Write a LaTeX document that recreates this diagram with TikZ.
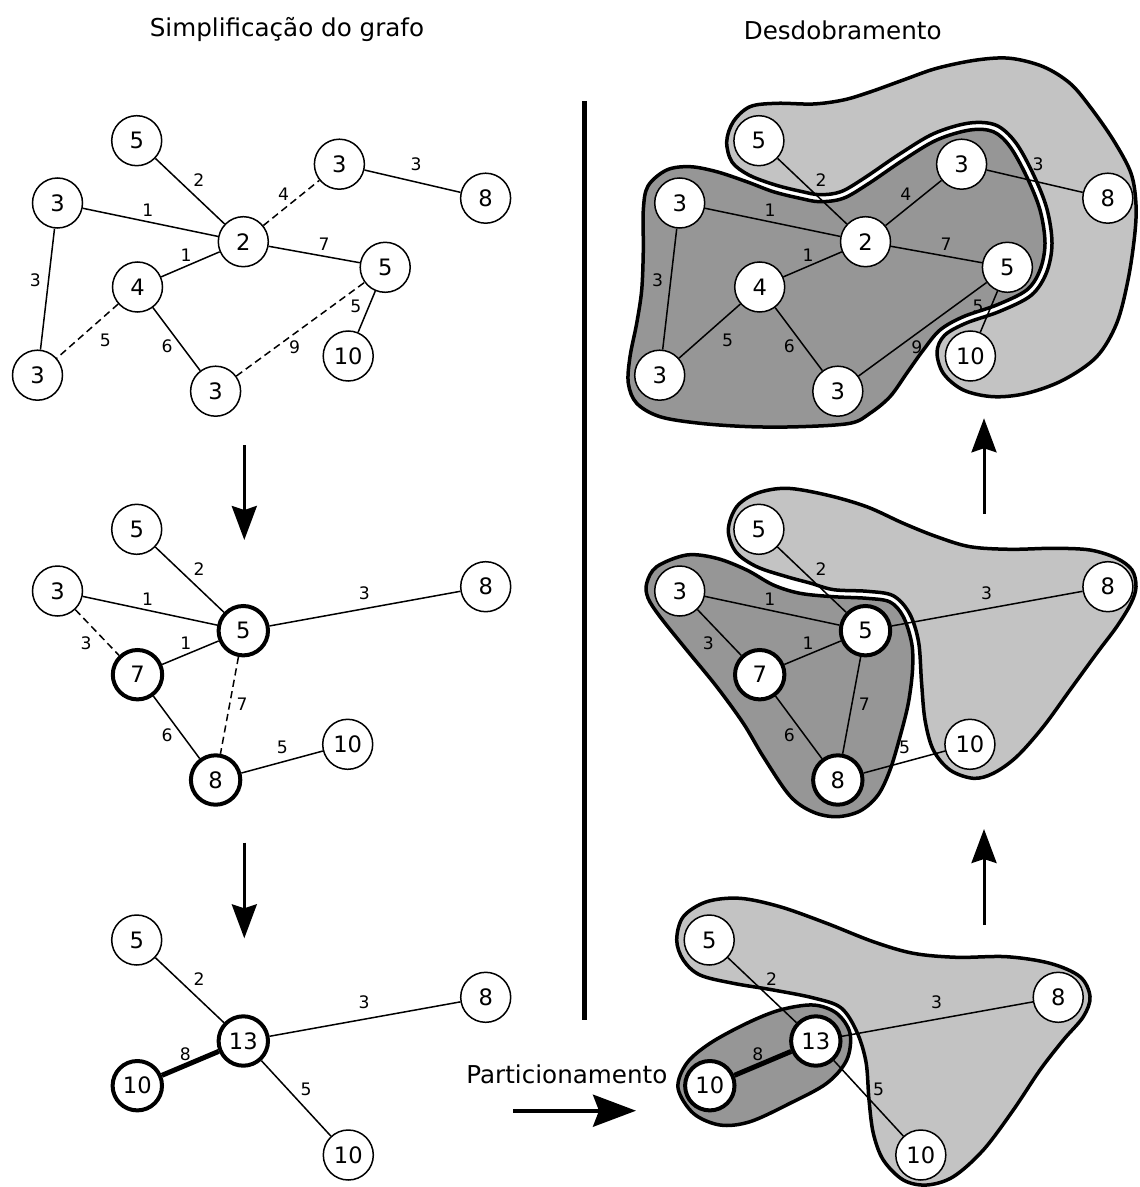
\documentclass[tikz,border=0pt]{standalone}
\usepackage{fontspec}
\setmainfont{DejaVu Sans}
\usetikzlibrary{arrows.meta}
\definecolor{lightblob}{gray}{0.765}
\definecolor{darkblob}{gray}{0.59}

\tikzset{
  nd/.style={circle, draw, fill=white, line width=0.75pt, minimum size=25pt, inner sep=0pt, font=\fontsize{11.3}{13}\selectfont},
  ndt/.style={nd, line width=2pt, minimum size=24.7pt},
  lbl/.style={inner sep=0pt, font=\fontsize{8.6}{10}\selectfont},
  ed/.style={line width=0.75pt},
  edd/.style={ed, dash pattern=on 3.6pt off 2.2pt},
  edt/.style={line width=2.5pt},
  blobL/.style={fill=lightblob, draw=black, line width=1.75pt},
  blobD/.style={fill=darkblob, draw=black, line width=1.75pt},
  flow/.style={line width=1.5pt, -{Stealth[length=17pt, width=12.5pt, inset=2pt]}},
  flowh/.style={line width=1.85pt, -{Stealth[length=21.5pt, width=16pt, inset=3pt]}},
  ttl/.style={font=\fontsize{12.3}{14}\selectfont, inner sep=0pt},
}

% graph 1: #1 prefix, #2 style of the edges drawn dashed on the left
\newcommand{\GraphOne}[2]{%
  \node[nd] (#1a) at (136.7,140.7) {5};
  \node[nd] (#1b) at (57.5,203) {3};
  \node[nd] (#1c) at (243.3,241.7) {2};
  \node[nd] (#1d) at (339.4,164.2) {3};
  \node[nd] (#1e) at (485.6,198.2) {8};
  \node[nd] (#1f) at (137.5,287) {4};
  \node[nd] (#1g) at (385.2,267.3) {5};
  \node[nd] (#1h) at (37.5,375.2) {3};
  \node[nd] (#1i) at (215.6,391.2) {3};
  \node[nd] (#1j) at (348.2,356) {10};
  \draw[ed] (#1a) -- (#1c);
  \draw[ed] (#1b) -- (#1c);
  \draw[#2] (#1c) -- (#1d);
  \draw[ed] (#1d) -- (#1e);
  \draw[ed] (#1c) -- (#1g);
  \draw[ed] (#1f) -- (#1c);
  \draw[ed] (#1b) -- (#1h);
  \draw[#2] (#1f) -- (#1h);
  \draw[ed] (#1f) -- (#1i);
  \draw[#2] (#1i) -- (#1g);
  \draw[ed] (#1g) -- (#1j);
  \node[lbl] (#1l1) at (198.8,180) {2};
  \node[lbl] (#1l2) at (147.8,210.5) {1};
  \node[lbl] (#1l3) at (283.6,194.2) {4};
  \node[lbl] (#1l4) at (416,164.2) {3};
  \node[lbl] (#1l5) at (324,244) {7};
  \node[lbl] (#1l6) at (186,255) {1};
  \node[lbl] (#1l7) at (35.3,280) {3};
  \node[lbl] (#1l8) at (105.4,340) {5};
  \node[lbl] (#1l9) at (167.2,346) {6};
  \node[lbl] (#1l10) at (294.6,347.5) {9};
  \node[lbl] (#1l11) at (355.8,306) {5};
}

\newcommand{\GraphTwo}[2]{%
  \node[nd] (#1a) at (136.7,529.3) {5};
  \node[nd] (#1b) at (57.5,591) {3};
  \node[ndt] (#1c) at (243.3,630.7) {5};
  \node[nd] (#1d) at (485.7,586.7) {8};
  \node[ndt] (#1e) at (137.5,674.7) {7};
  \node[ndt] (#1f) at (215.6,780) {8};
  \node[nd] (#1g) at (347.7,744.3) {10};
  \draw[ed] (#1a) -- (#1c);
  \draw[ed] (#1b) -- (#1c);
  \draw[ed] (#1c) -- (#1d);
  \draw[#2] (#1b) -- (#1e);
  \draw[ed] (#1e) -- (#1c);
  \draw[#2] (#1c) -- (#1f);
  \draw[ed] (#1e) -- (#1f);
  \draw[ed] (#1f) -- (#1g);
  \node[lbl] (#1l1) at (199,568.7) {2};
  \node[lbl] (#1l2) at (147.7,599.2) {1};
  \node[lbl] (#1l3) at (364.3,593.3) {3};
  \node[lbl] (#1l4) at (86.2,643) {3};
  \node[lbl] (#1l5) at (185.8,643) {1};
  \node[lbl] (#1l6) at (242.2,704.2) {7};
  \node[lbl] (#1l7) at (167.2,735) {6};
  \node[lbl] (#1l8) at (282.3,747.7) {5};
}

\newcommand{\GraphThree}[1]{%
  \node[nd] (#1a) at (136.7,940) {5};
  \node[ndt] (#1b) at (243.3,1041) {13};
  \node[nd] (#1c) at (485.7,997.3) {8};
  \node[ndt] (#1d) at (137.3,1085.7) {10};
  \node[nd] (#1e) at (348.3,1155) {10};
  \draw[ed] (#1a) -- (#1b);
  \draw[ed] (#1b) -- (#1c);
  \draw[edt] (#1d) -- (#1b);
  \draw[ed] (#1b) -- (#1e);
  \node[lbl] (#1l1) at (199,979.3) {2};
  \node[lbl] (#1l2) at (364,1002.7) {3};
  \node[lbl] (#1l3) at (185.3,1054) {8};
  \node[lbl] (#1l4) at (306,1089.3) {5};
}

\begin{document}
\begin{tikzpicture}[x=0.5pt, y=-0.5pt]
\useasboundingbox (0,0) rectangle (1139,1187);

% titles
\node[ttl, anchor=base] (title1) at (287,37) {Simplificação do grafo};
\node[ttl, anchor=base] (title2) at (842.7,40) {Desdobramento};
\node[ttl, anchor=base west] (part) at (466,1083.3) {Particionamento};

% separator
\coordinate (sepT) at (584,101);
\coordinate (sepB) at (584,1020);
\draw[line width=2.5pt] (sepT) -- (sepB);

% flow arrows
\coordinate (d1s) at (244.3,445);
\coordinate (d1e) at (244.3,540);
\coordinate (d2s) at (244.3,842.7);
\coordinate (d2e) at (244.3,938.3);
\coordinate (u1s) at (984,514);
\coordinate (u1e) at (984,418.3);
\coordinate (u2s) at (984,925);
\coordinate (u2e) at (984,829);
\coordinate (ps) at (513.3,1110.7);
\coordinate (pe) at (636,1110.7);
\draw[flow] (d1s) -- (d1e);
\draw[flow] (d2s) -- (d2e);
\draw[flow] (u1s) -- (u1e);
\draw[flow] (u2s) -- (u2e);
\draw[flowh] (ps) -- (pe);

% left graphs
\GraphOne{A}{edd}
\GraphTwo{B}{edd}
\GraphThree{C}

% right top blobs
\draw[blobL] plot[smooth cycle, tension=0.55] coordinates {
 (726.7,141.7) (733.3,121.7) (750,106.7) (776.7,103.3) (813.3,104) (843.3,100)
 (870,92) (903.3,80) (936.7,68.3) (976.7,60) (1010,58.3) (1043.3,66.7)
 (1070,83.3) (1090,106.7) (1113.3,140) (1131,173.3) (1136,205) (1134.5,236.7)
 (1128,280) (1116.7,323.3) (1096.7,356.7) (1063.3,380) (1026.7,393.3) (993.3,396.7)
 (963.3,390) (943.3,373.3) (937,352) (944.5,335.4) (966.1,323.1) (999.4,311.5)
 (1031.1,295.4) (1046.5,272.6) (1052,243.3) (1046.7,208.1) (1033,173.7) (1015.6,142.5)
 (996,125.2) (969,123.1) (933.8,133.6) (899.5,154.1) (864.2,178.1) (840.9,191.7)
 (820,194.7) (801.5,191.5) (775.4,185) (749,175.1) (732,162)};
\draw[blobD] plot[smooth cycle, tension=0.55] coordinates {
 (643.3,210) (648,186) (666.7,170) (690,166.7) (716.7,171.7) (746.7,181.7)
 (773.3,191.7) (800,198.3) (820,201.7) (843.3,198.3) (868,184) (903.3,160)
 (936.7,140) (970,130) (993.3,131.7) (1010,146.7) (1026.7,176.7) (1040,210)
 (1045,243.3) (1040,270) (1026.7,290) (996.7,305) (963.3,316.7) (940,330)
 (923.3,350) (906.7,373.3) (890,396.7) (870,413.3) (850,423.3) (800,426.7)
 (750,426.7) (700,423.3) (660,416.7) (636.7,403.3) (628.3,383.3) (630,356.7)
 (636.7,323.3) (641.7,290) (643.3,250)};
\begin{scope}[shift={(622.2,0)}]
\GraphOne{R}{ed}
\end{scope}

% right middle blobs
\draw[blobL] plot[smooth cycle, tension=0.55] coordinates {
 (728.3,530) (736.7,506.7) (756.7,493.3) (786.7,488.3) (826.7,495) (866.7,506.7)
 (903.3,523.3) (936.7,536.7) (970,546.7) (1010,549.3) (1053.3,548.3) (1090,550)
 (1116.7,558.3) (1132,570) (1136,586.7) (1131,603.3) (1116.7,626.7) (1096.7,653.3)
 (1070,690) (1043.3,726.7) (1016.7,756.7) (993.3,773.3) (973.3,778.3) (950,770)
 (933.3,750) (925,720) (921.5,682) (918.6,642.1) (909.5,613.4) (893.1,595.7)
 (867.3,591.3) (833.8,589.7) (810,583) (786.7,576.7) (756.7,566.7) (736,552)};
\draw[blobD] plot[smooth cycle, tension=0.55] coordinates {
 (646.7,583.3) (656.7,566.7) (686.7,555) (716.7,558.3) (746.7,570) (773.3,585)
 (800,593.3) (833.3,596.7) (866.7,598.3) (890,602) (903.3,616.7) (911.7,643.3)
 (912.5,670) (908.3,703.3) (900,736.7) (890,770) (878,795) (860,811)
 (836.7,816.7) (813,812) (790,796) (763.3,756.7) (743.3,723.3) (716.7,686.7)
 (686.7,650) (660,616.7) (648,598)};
\begin{scope}[shift={(622.2,0)}]
\GraphTwo{S}{ed}
\end{scope}

% right bottom blobs
\draw[blobL] plot[smooth cycle, tension=0.55] coordinates {
 (676.7,940) (683.3,916.7) (706.7,901.7) (740,898.3) (780,906.7) (826.7,923.3)
 (873.3,941.7) (913.3,953.3) (956.7,957.3) (1006.7,956.7) (1050,963.3) (1080,976.7)
 (1090,996.7) (1083.3,1016.7) (1063.3,1040) (1040,1070) (1013.3,1110) (983.3,1150)
 (953.3,1176.7) (926.7,1185) (903.3,1180) (883.3,1160) (873.3,1133.3) (869,1100)
 (866,1062) (856.8,1031.8) (841,1007.8) (813.7,998) (773.3,990) (733.3,983.3)
 (700,975) (683.3,960)};
\draw[blobD] plot[smooth cycle, tension=0.55] coordinates {
 (678,1088) (686.7,1063.3) (710,1043.3) (746.7,1023.3) (780,1010) (813.3,1005)
 (836.7,1013.3) (850,1033.3) (846.7,1060) (826.7,1083.3) (790,1103.3) (750,1121.7)
 (720,1125) (693.3,1113.3)};
\begin{scope}[shift={(572.5,0)}]
\GraphThree{T}
\end{scope}

\end{tikzpicture}
\end{document}
